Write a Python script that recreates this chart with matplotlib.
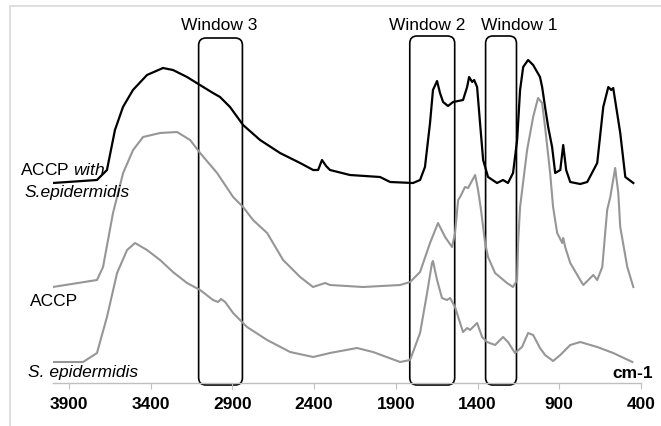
import matplotlib
matplotlib.use("Agg")
import matplotlib.pyplot as plt
from matplotlib.patches import FancyBboxPatch, Rectangle

plt.rcParams["font.family"] = ["Liberation Sans", "DejaVu Sans"]
plt.rcParams["mathtext.fontset"] = "custom"
plt.rcParams["mathtext.rm"] = "Liberation Sans"
plt.rcParams["mathtext.it"] = "Liberation Sans:italic"

# ACCP with S.epidermidis (black, top)
mix_wn = [4000, 3729, 3668, 3619, 3570, 3509, 3423, 3325, 3264, 3178, 3099, 3019, 2976,
          2915, 2835, 2731, 2609, 2486, 2406, 2376, 2352, 2327, 2303, 2181, 1997, 1935,
          1795, 1752, 1722, 1691, 1673, 1648, 1630, 1611, 1581, 1550, 1489, 1464, 1452,
          1433, 1421, 1403, 1385, 1366, 1336, 1281, 1244, 1214, 1183, 1158, 1140, 1121,
          1091, 1060, 1018, 1005, 987, 968, 944, 925, 894, 876, 858, 833, 772, 729,
          668, 631, 600, 582, 570, 527, 496, 447]
mix_y = [200, 203, 213, 253, 276, 293, 308, 315, 313, 306, 298, 290, 286,
         276, 258, 243, 230, 220, 213, 213, 223, 217, 213, 208, 206, 201,
         200, 203, 216, 260, 293, 302, 290, 281, 277, 281, 283, 296, 306,
         301, 303, 296, 260, 223, 206, 200, 203, 200, 210, 243, 293, 316,
         323, 318, 306, 296, 276, 256, 236, 210, 213, 238, 213, 201, 199, 201,
         220, 276, 296, 293, 295, 250, 206, 200]

# ACCP (grey, middle)
accp_wn = [4000, 3729, 3692, 3631, 3569, 3508, 3447, 3343, 3239, 3159, 3098, 2994, 2896,
           2835, 2774, 2688, 2590, 2486, 2407, 2333, 2303, 2101, 1874, 1813, 1752, 1691,
           1642, 1599, 1556, 1538, 1519, 1507, 1477, 1458, 1415, 1397, 1379, 1354, 1336,
           1293, 1220, 1183, 1158, 1152, 1140, 1097, 1060, 1030, 1005, 987, 956, 938,
           913, 882, 876, 864, 833, 772, 753, 692, 668, 637, 607, 588, 558, 539, 527,
           484, 447]
accp_y = [96, 103, 116, 170, 210, 233, 246, 250, 251, 243, 230, 210, 186,
          176, 163, 150, 123, 106, 96, 100, 98, 96, 98, 101, 111, 140,
          160, 146, 136, 150, 183, 186, 196, 195, 208, 193, 173, 140, 126,
          110, 100, 96, 103, 140, 176, 233, 266, 285, 280, 256, 210, 176,
          150, 140, 145, 136, 120, 103, 98, 108, 103, 116, 173, 186, 215, 190, 156,
          116, 96]

# S. epidermidis (grey, bottom)
sep_wn = [4000, 3814, 3729, 3668, 3606, 3545, 3496, 3423, 3343, 3264, 3178, 3098, 3019,
          2988, 2970, 2945, 2896, 2811, 2688, 2547, 2406, 2303, 2138, 2040, 1874, 1813,
          1752, 1709, 1679, 1673, 1648, 1618, 1587, 1568, 1538, 1507, 1489, 1464, 1446,
          1403, 1372, 1342, 1293, 1244, 1214, 1171, 1128, 1091, 1060, 1018, 987, 938,
          894, 833, 772, 668, 570, 453]
sep_y = [21, 21, 30, 66, 110, 133, 140, 133, 123, 111, 100, 93, 83,
         81, 84, 81, 70, 56, 43, 31, 26, 30, 35, 31, 21, 23,
         50, 90, 120, 122, 103, 85, 83, 85, 76, 60, 51, 55, 53,
         60, 46, 41, 38, 46, 41, 30, 36, 50, 48, 35, 28, 22,
         28, 38, 41, 36, 30, 21]

windows = ["Window 1", "Window 2", "Window 3"]
win_lo = [1162, 1540, 2839]
win_hi = [1351, 1815, 3107]
win_top = [347, 347, 345]
win_label_x = [1146, 1709, 2982]

xticks = [3900, 3400, 2900, 2400, 1900, 1400, 900, 400]

fig = plt.figure(figsize=(6.61, 4.26), dpi=100)
# light grey frame round the chart
fig.patches.append(Rectangle((10 / 661, -0.1), 1.1, (426 - 6) / 426 + 0.1,
                             transform=fig.transFigure, fill=False,
                             edgecolor="#d9d9d9", linewidth=1.2))

ax = fig.add_axes([52.7 / 661, 43 / 426, (641 - 52.7) / 661, 377 / 426])
ax.patch.set_alpha(0)

ax.plot(mix_wn, mix_y, color="black", linewidth=1.6, solid_joinstyle="round")
ax.plot(accp_wn, accp_y, color="#969696", linewidth=1.5, solid_joinstyle="round")
ax.plot(sep_wn, sep_y, color="#969696", linewidth=1.5, solid_joinstyle="round")

for name, lo, hi, top, lx in zip(windows, win_lo, win_hi, win_top, win_label_x):
    box = FancyBboxPatch((lo, -2), hi - lo, top + 2,
                         boxstyle="round,pad=0,rounding_size=45",
                         mutation_aspect=0.1634, fill=False,
                         edgecolor="black", linewidth=1.2, clip_on=False)
    ax.add_patch(box)
    ax.text(lx, 357, name, ha="center", va="center", fontsize=12.5)

ax.set_xlim(4000, 400)
ax.set_ylim(0, 377)
ax.set_xticks(xticks)
ax.set_xticklabels([str(t) for t in xticks], fontsize=12.5, fontweight="bold")
ax.set_yticks([])
for s in ["left", "right", "top"]:
    ax.spines[s].set_visible(False)
ax.spines["bottom"].set_color("#bfbfbf")
ax.spines["bottom"].set_linewidth(1)
ax.tick_params(axis="x", direction="out", length=4, color="#bfbfbf", pad=6)

ax.text(4200, 213, r"ACCP $\it{with}$", ha="left", va="center", fontsize=12.5, clip_on=False)
ax.text(4170, 191, "S.epidermidis", ha="left", va="center", fontsize=12.5,
        style="italic", clip_on=False)
ax.text(4139, 82, "ACCP", ha="left", va="center", fontsize=12.5, clip_on=False)
ax.text(4151, 10, "S. epidermidis", ha="left", va="center", fontsize=12.5,
        style="italic", clip_on=False)
ax.text(327, 10, "cm-1", ha="right", va="center", fontsize=12.5,
        fontweight="bold", clip_on=False)

fig.savefig("out.png", dpi=100)
